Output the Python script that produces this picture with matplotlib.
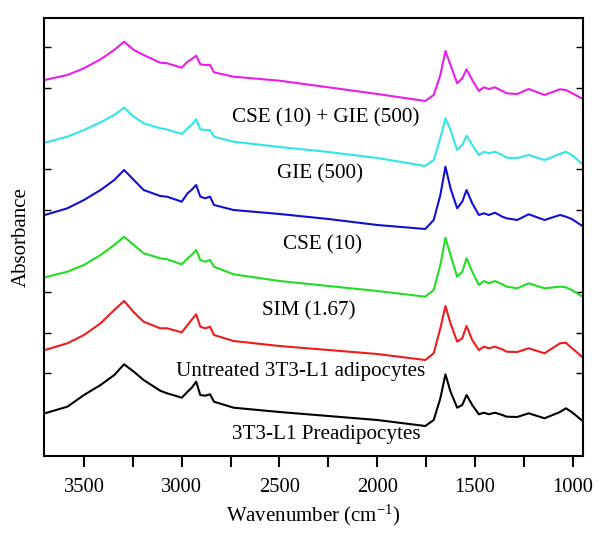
import matplotlib
matplotlib.use("Agg")
from matplotlib import pyplot as plt
from matplotlib.ticker import MultipleLocator

plt.rcParams['font.family'] = ['Liberation Serif', 'DejaVu Serif']
plt.rcParams['mathtext.fontset'] = 'custom'
plt.rcParams['mathtext.rm'] = 'Liberation Serif'
plt.rcParams['mathtext.default'] = 'regular'

# wavenumbers (cm-1) read at the features of the spectra
wavenumber = [3700, 3585, 3500, 3415, 3345, 3295, 3245, 3195, 3110, 3075,
              3000, 2970, 2950, 2926, 2905, 2880, 2855, 2835, 2735, 2500,
              2250, 2000, 1754, 1711, 1677, 1651, 1625, 1591, 1565, 1543,
              1514, 1480, 1454, 1429, 1398, 1360, 1338, 1284, 1225, 1144,
              1065, 1035, 1005, 945]

# stacked absorbance (arbitrary offset units)
cse_gie = [376, 381, 387.7, 396.7, 406, 414.3, 406, 401, 393.3, 392.7,
           388.3, 394.3, 396.7, 400.3, 391.7, 391, 391, 383.7, 379.3, 375.3,
           368.7, 362, 355, 361, 381, 405, 391, 372.7, 377.7, 386.7,
           376, 365, 368.7, 367, 368.7, 365, 362.7, 362, 367, 361,
           366.7, 366, 363, 356.7]
gie = [313.3, 319.3, 326, 333.7, 341, 348.3, 339.3, 332.7, 327.7, 326.5,
       322, 327.7, 331, 336.7, 326.7, 326, 326, 319.3, 314.3, 309,
       304, 298, 290, 296, 318, 337.7, 326, 306, 311, 320.3,
       311, 301, 304.3, 302.7, 304.3, 301, 298.3, 298, 301, 296,
       302, 304.3, 301, 291]
cse = [241, 247.7, 256, 266, 276, 286, 276, 266, 260, 259.3,
       254.3, 262.7, 266, 271, 259.3, 257.7, 259.3, 251, 246, 242,
       237, 231, 227, 236, 261, 289.3, 267.7, 247.7, 254.3, 266,
       252.7, 241, 242.7, 241, 243.3, 239.3, 237.7, 236, 241.7, 236,
       241, 239.3, 237, 229.3]
sim = [178.7, 184.3, 191, 201, 211, 219.3, 211, 202.7, 197.7, 196.7,
       191.7, 197.7, 201, 206, 196, 194.3, 196, 189.3, 181.7, 175,
       170, 165, 159.3, 166, 191, 218.3, 201, 179.3, 184.3, 197.7,
       184.3, 171, 175, 172.7, 175, 171.7, 169.3, 167.7, 172.7, 167.7,
       169.3, 168.7, 166, 158.7]
untreated = [106, 112.7, 121, 132.7, 146, 155, 143.7, 134.3, 127.7, 127.7,
             123.7, 131, 136, 141.7, 129.3, 127.7, 129.3, 121, 115, 110,
             106, 102, 96, 102.7, 127.7, 150, 132.7, 114.3, 117.7, 130,
             116, 106, 109.3, 107.7, 109.3, 106.7, 104.3, 104, 107.7, 102.7,
             112.7, 113.3, 108, 98]
preadipocytes = [42.7, 49.3, 61, 71, 81, 91.7, 84.3, 76, 65.3, 62.7,
                 58.3, 64.3, 68, 74.3, 61, 60.3, 61.7, 54.3, 48.3, 44,
                 40, 36, 30, 36, 57.7, 81.7, 64.3, 48.3, 51, 61,
                 51, 41.7, 43.3, 41.7, 43.3, 41, 39.3, 39, 42.7, 37.7,
                 44, 47.7, 44, 34.3]

series = [cse_gie, gie, cse, sim, untreated, preadipocytes]
colors = ["#e81ee8", "#30e6e6", "#1010d0", "#22dd22", "#ee1c1c", "black"]

labels = ["CSE (10) + GIE (500)", "GIE (500)", "CSE (10)", "SIM (1.67)",
          "Untreated 3T3-L1 adipocytes", "3T3-L1 Preadipocytes"]
label_x = [2262, 2293, 2282, 2349, 2390, 2262]
label_y = [338, 282, 211, 145, 84, 21]

ytick_pos = [82.7, 122.7, 164.3, 246, 287, 367.7, 408.7]

fig = plt.figure(figsize=(6.06, 5.39), dpi=100)
ax = fig.add_axes([0.0731, 0.154, 0.8884, 0.8117])

for y, c in zip(series, colors):
    ax.plot(wavenumber, y, color=c, lw=1.5)

for t, x, y in zip(labels, label_x, label_y):
    ax.text(x, y, t, fontsize=15.2, ha="center", va="center")

ax.set_xlim(3703, 949)
ax.set_ylim(0, 437.5)

ax.xaxis.set_major_locator(MultipleLocator(500))
ax.xaxis.set_minor_locator(MultipleLocator(250))
ax.tick_params(axis="x", which="both", direction="out", length=8, width=1.5,
               labelsize=14.8, pad=8)
ax.set_yticks(ytick_pos)
ax.set_yticklabels([])
ax.tick_params(axis="y", direction="in", length=5, width=1, right=True)

for s in ax.spines.values():
    s.set_linewidth(1.5)

ax.set_xlabel("Wavenumber (cm$^{-1}$)", fontsize=15, labelpad=4)
ax.set_ylabel("Absorbance", fontsize=15, labelpad=6)

fig.savefig("out.png", dpi=100)
